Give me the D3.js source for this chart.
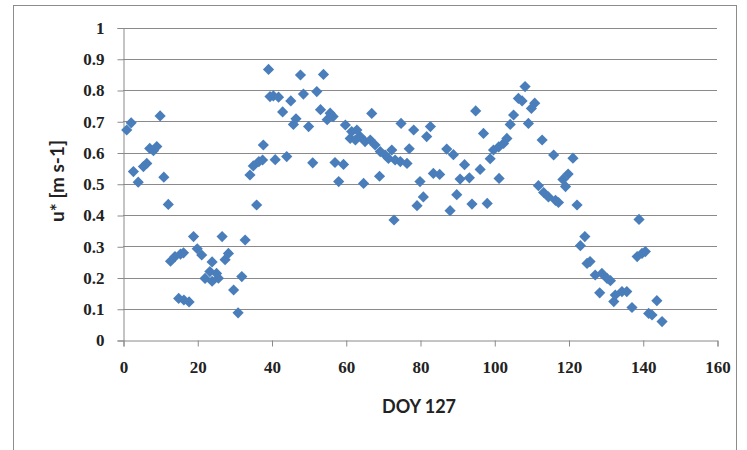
<!DOCTYPE html>
<html>
<head>
<meta charset="utf-8">
<script src="https://cdn.jsdelivr.net/npm/d3@7"></script>
<style>
  html, body { margin: 0; padding: 0; background: #fff; }
  svg { display: block; }
</style>
</head>
<body>
<svg id="chart" width="747" height="450"></svg>
<script>
// ---- data ----
const doy = [
  1.0, 2.2, 2.8, 4.1, 5.5, 6.4, 7.2, 8.2, 9.1, 10.0,
  11.0, 12.2, 12.8, 14.0, 15.0, 15.5, 16.3, 16.4, 17.8, 19.0,
  20.0, 21.2, 22.1, 23.4, 24.0, 24.0, 25.2, 25.7, 26.7, 27.5,
  28.4, 29.8, 31.0, 32.0, 32.9, 34.2, 35.1, 36.0, 36.6, 37.6,
  37.8, 39.2, 39.6, 40.5, 41.0, 41.9, 43.0, 44.1, 45.2, 45.9,
  46.6, 47.8, 48.6, 50.0, 51.1, 52.2, 53.2, 54.0, 55.0, 55.8,
  56.6, 57.1, 58.1, 59.4, 59.9, 61.2, 61.6, 62.6, 63.0, 63.9,
  64.8, 65.2, 66.6, 67.0, 67.9, 69.1, 69.3, 70.6, 71.5, 72.4,
  73.0, 73.3, 74.7, 74.9, 76.5, 77.1, 78.3, 79.2, 80.0, 80.9,
  81.8, 82.8, 83.6, 85.3, 87.2, 88.1, 89.0, 89.9, 90.8, 92.0,
  93.3, 94.0, 95.0, 96.2, 97.1, 98.1, 98.9, 99.8, 101.2, 101.3,
  102.5, 103.4, 104.3, 105.2, 106.5, 107.5, 108.3, 109.2, 110.0, 110.9,
  111.9, 112.9, 113.3, 114.6, 116.0, 116.5, 117.3, 118.5, 119.2, 119.9,
  121.2, 122.3, 123.2, 124.4, 125.0, 125.8, 127.2, 128.4, 129.0, 130.4,
  131.3, 132.2, 132.6, 134.4, 135.7, 137.1, 138.5, 139.0, 139.8, 140.7,
  141.6, 142.5, 143.8, 145.2
];
const ustar = [
  0.672, 0.695, 0.539, 0.505, 0.555, 0.565, 0.613, 0.606, 0.619, 0.717,
  0.521, 0.434, 0.252, 0.267, 0.133, 0.275, 0.279, 0.128, 0.122, 0.331,
  0.292, 0.272, 0.197, 0.219, 0.250, 0.188, 0.213, 0.198, 0.331, 0.257,
  0.277, 0.160, 0.087, 0.203, 0.320, 0.528, 0.557, 0.432, 0.571, 0.576,
  0.624, 0.866, 0.779, 0.781, 0.577, 0.777, 0.730, 0.587, 0.765, 0.690,
  0.708, 0.848, 0.787, 0.683, 0.567, 0.795, 0.737, 0.850, 0.705, 0.726,
  0.715, 0.568, 0.507, 0.562, 0.688, 0.645, 0.667, 0.640, 0.672, 0.651,
  0.501, 0.635, 0.640, 0.725, 0.624, 0.524, 0.603, 0.592, 0.581, 0.608,
  0.384, 0.576, 0.571, 0.693, 0.565, 0.612, 0.672, 0.430, 0.507, 0.458,
  0.651, 0.683, 0.533, 0.530, 0.611, 0.414, 0.593, 0.465, 0.515, 0.561,
  0.519, 0.435, 0.733, 0.546, 0.661, 0.437, 0.580, 0.608, 0.618, 0.517,
  0.629, 0.645, 0.690, 0.720, 0.773, 0.765, 0.811, 0.693, 0.741, 0.758,
  0.494, 0.640, 0.472, 0.458, 0.592, 0.447, 0.440, 0.514, 0.491, 0.531,
  0.582, 0.432, 0.302, 0.331, 0.245, 0.251, 0.208, 0.151, 0.213, 0.197,
  0.190, 0.123, 0.144, 0.155, 0.155, 0.104, 0.267, 0.386, 0.277, 0.283,
  0.085, 0.080, 0.126, 0.059
];
const xTicks = [0, 20, 40, 60, 80, 100, 120, 140, 160];
const yTicks = [0, 0.1, 0.2, 0.3, 0.4, 0.5, 0.6, 0.7, 0.8, 0.9, 1];
const xTitle = "DOY 127";
const yTitle = "u* [m s-1]";

// ---- layout ----
const svg = d3.select("#chart");
const mLeft = 123, mRight = 717, mTop = 27.5, mBottom = 340;

svg.append("rect")
  .attr("x", 13.5).attr("y", 5.5)
  .attr("width", 723).attr("height", 470)
  .attr("fill", "#fff").attr("stroke", "#8c8c8c").attr("stroke-width", 1);

const x = d3.scaleLinear().domain([0, 160]).range([mLeft, mRight]);
const y = d3.scaleLinear().domain([0, 1]).range([mBottom, mTop]);

// gridlines
svg.append("g")
  .selectAll("line")
  .data(yTicks.filter(t => t > 0))
  .join("line")
  .attr("x1", mLeft).attr("x2", mRight)
  .attr("y1", d => Math.round(y(d)) + 0.5).attr("y2", d => Math.round(y(d)) + 0.5)
  .attr("stroke", "#8a8a8a").attr("stroke-width", 1);

// y axis
const yAxis = svg.append("g")
  .attr("transform", `translate(${mLeft + 0.5},0.5)`)
  .call(d3.axisLeft(y).tickValues(yTicks).tickSize(6).tickPadding(13)
    .tickFormat(d => d === 0 ? "0" : d === 1 ? "1" : d3.format(".1f")(d)));
yAxis.select(".domain").attr("stroke", "#8a8a8a");
yAxis.selectAll(".tick line").attr("stroke", "#8a8a8a");
yAxis.selectAll(".tick text")
  .attr("font-family", "'Liberation Serif', serif")
  .attr("font-size", "17px")
  .attr("font-weight", "bold")
  .attr("fill", "#222");

// x axis
const xAxis = svg.append("g")
  .attr("transform", `translate(0.5,${mBottom + 0.5})`)
  .call(d3.axisBottom(x).tickValues(xTicks).tickSize(6).tickPadding(14)
    .tickFormat(d3.format("d")));
xAxis.select(".domain").attr("stroke", "#8a8a8a");
xAxis.selectAll(".tick line").attr("stroke", "#8a8a8a");
xAxis.selectAll(".tick text")
  .attr("font-family", "'Liberation Serif', serif")
  .attr("font-size", "17px")
  .attr("font-weight", "bold")
  .attr("fill", "#222");

// titles
svg.append("text")
  .attr("x", 419).attr("y", 413)
  .attr("text-anchor", "middle")
  .attr("font-family", "Lato, 'Open Sans', sans-serif")
  .attr("font-weight", "bold")
  .attr("font-size", "18px")
  .attr("fill", "#222")
  .text(xTitle);

svg.append("text")
  .attr("transform", "translate(64,181) rotate(-90)")
  .attr("text-anchor", "middle")
  .attr("font-family", "Lato, 'Open Sans', sans-serif")
  .attr("font-weight", "bold")
  .attr("font-size", "19px")
  .attr("fill", "#222")
  .text(yTitle);

// points (diamonds)
const pts = doy.map((d, i) => ({ x: d, y: ustar[i] }));
const r = 5.6;
svg.append("g")
  .selectAll("path")
  .data(pts)
  .join("path")
  .attr("transform", d => `translate(${x(d.x)},${y(d.y)})`)
  .attr("d", `M0,${-r}L${r},0L0,${r}L${-r},0Z`)
  .attr("fill", "#4a7ebb");
</script>
</body>
</html>
